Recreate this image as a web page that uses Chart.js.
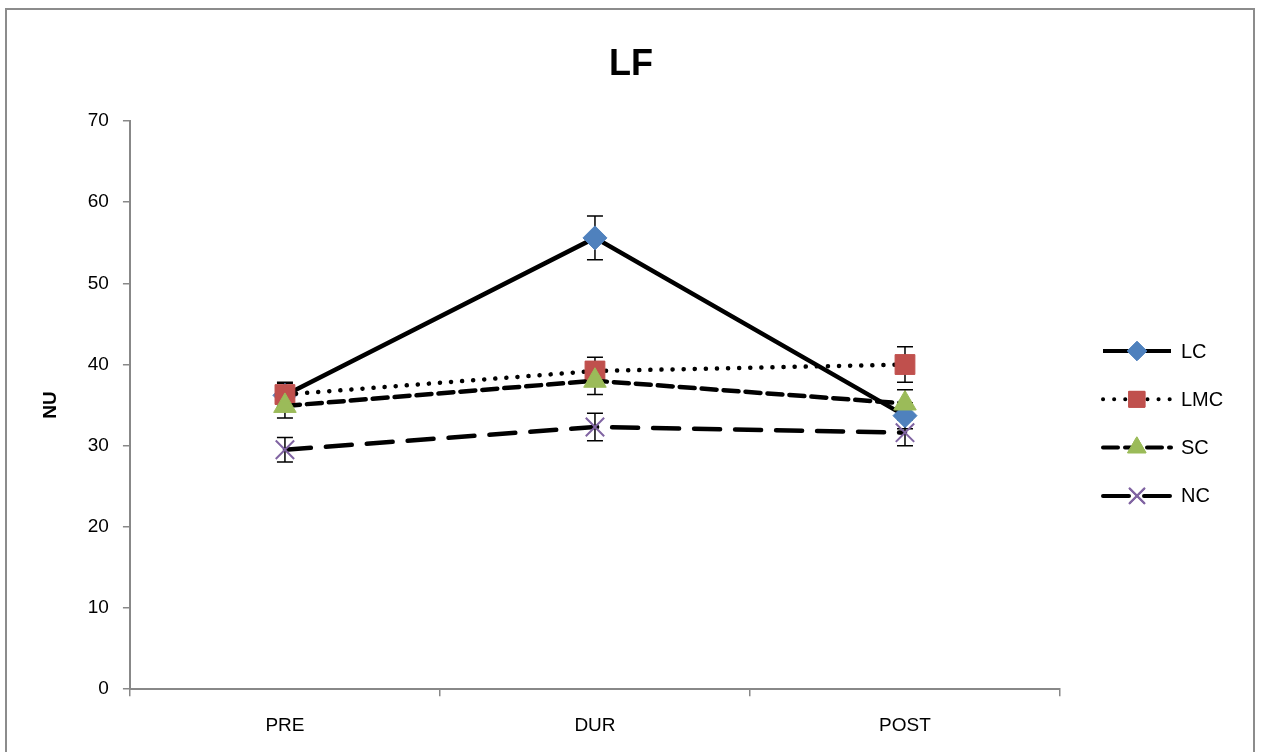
<!DOCTYPE html>
<html>
<head>
<meta charset="utf-8">
<script src="https://cdn.jsdelivr.net/npm/chart.js@4"></script>
<style>
  html, body { margin: 0; padding: 0; background: #fff; overflow: hidden; }
  #wrap { position: relative; width: 1262px; height: 752px; }
  #frame { position: absolute; left: 5px; top: 8px; width: 1246px; height: 760px; border: 2px solid #8c8c8c; }
  #title { position: absolute; left: 0; top: 42px; width: 1262px; text-align: center;
           font: bold 36px 'Liberation Sans', Arial, sans-serif; color: #000; }
  canvas { position: absolute; left: 0; top: 0; }
</style>
</head>
<body>
<div id="wrap">
  <div id="frame"></div>
  <canvas id="lfChart" width="1262" height="752"></canvas>
  <div id="title">LF</div>
</div>
<script>
const categories = ['PRE', 'DUR', 'POST'];
const seriesNames = ['LC', 'LMC', 'SC', 'NC'];
const lcValues = [36.2, 55.6, 33.7];
const lmcValues = [36.3, 39.2, 40.0];
const scValues = [34.9, 38.0, 35.2];
const ncValues = [29.5, 32.3, 31.6];
const lcErrors = [1.6, 2.7, 1.6];
const lmcErrors = [1.4, 1.7, 2.2];
const scErrors = [1.5, 1.7, 1.7];
const ncErrors = [1.5, 1.7, 1.6];
const yTicks = [0, 10, 20, 30, 40, 50, 60, 70];

const fontFamily = "'Liberation Sans', Arial, sans-serif";

// error bars, drawn under the markers
const errorBars = {
    id: 'errorBars',
    beforeDatasetsDraw(chart) {
        const ctx = chart.ctx;
        const y = chart.scales.y;
        ctx.save();
        ctx.strokeStyle = '#000';
        ctx.lineWidth = 1.5;
        chart.data.datasets.forEach((ds, i) => {
            const meta = chart.getDatasetMeta(i);
            meta.data.forEach((pt, j) => {
                const v = ds.data[j], e = ds.errors[j];
                const top = y.getPixelForValue(v + e);
                const bot = y.getPixelForValue(v - e);
                ctx.beginPath();
                ctx.moveTo(pt.x, top); ctx.lineTo(pt.x, bot);
                ctx.moveTo(pt.x - 8, top); ctx.lineTo(pt.x + 8, top);
                ctx.moveTo(pt.x - 8, bot); ctx.lineTo(pt.x + 8, bot);
                ctx.stroke();
            });
        });
        ctx.restore();
    }
};

function drawMarker(ctx, style, r, x, y) {
    Chart.helpers.drawPoint(ctx, { pointStyle: style, radius: r, borderWidth: ctx.lineWidth }, x, y);
    if (style !== 'crossRot') ctx.fill();
    ctx.stroke();
}

// legend like the excel one: line sample with marker in the middle
const lineLegend = {
    id: 'lineLegend',
    afterDraw(chart) {
        const ctx = chart.ctx;
        const area = chart.chartArea;
        const x0 = area.right + 43;
        const startY = 351;
        const step = 48.3;
        ctx.save();
        chart.data.datasets.forEach((ds, i) => {
            const yy = startY + i * step;
            ctx.strokeStyle = '#000';
            ctx.lineWidth = 4;
            ctx.lineCap = ds.borderCapStyle || 'butt';
            ctx.setLineDash(ds.borderDash || []);
            ctx.beginPath();
            ctx.moveTo(x0, yy);
            ctx.lineTo(x0 + 68, yy);
            ctx.stroke();
            ctx.setLineDash([]);
            ctx.fillStyle = ds.pointBackgroundColor;
            ctx.strokeStyle = ds.pointBorderColor;
            ctx.lineWidth = ds.pointBorderWidth;
            drawMarker(ctx, ds.pointStyle, ds.pointRadius * 0.8, x0 + 34, yy);
            ctx.fillStyle = '#000';
            ctx.font = '20px ' + fontFamily;
            ctx.textBaseline = 'middle';
            ctx.textAlign = 'left';
            ctx.fillText(ds.label, x0 + 78, yy + 1);
        });
        ctx.restore();
    }
};

function makeSet(label, data, errors, dash, cap, style, radius, color, order) {
    return {
        label: label,
        data: data,
        errors: errors,
        borderColor: '#000',
        borderWidth: 4.5,
        borderDash: dash,
        borderCapStyle: cap,
        pointStyle: style,
        pointRadius: radius,
        pointHoverRadius: radius,
        pointBackgroundColor: color,
        pointBorderColor: color,
        pointBorderWidth: style === 'crossRot' ? 2 : 1,
        tension: 0,
        order: order
    };
}

const ctx = document.getElementById('lfChart');
new Chart(ctx, {
    type: 'line',
    data: {
        labels: categories,
        datasets: [
            makeSet(seriesNames[0], lcValues, lcErrors, [], 'butt', 'rectRot', 12, '#4f81bd', 4),
            makeSet(seriesNames[1], lmcValues, lmcErrors, [0.1, 11], 'round', 'rect', 14, '#c0504d', 3),
            makeSet(seriesNames[2], scValues, scErrors, [15, 7], 'round', 'triangle', 13, '#9bbb59', 2),
            makeSet(seriesNames[3], ncValues, ncErrors, [26, 15], 'round', 'crossRot', 13, '#8064a2', 1)
        ]
    },
    options: {
        responsive: false,
        animation: false,
        events: [],
        layout: { padding: { top: 121, left: 35, right: 202, bottom: -3 } },
        plugins: {
            legend: { display: false },
            tooltip: { enabled: false },
            title: { display: false }
        },
        scales: {
            x: {
                offset: true,
                grid: { display: true, offset: true, drawOnChartArea: false, drawTicks: true, tickLength: 7, color: '#888', lineWidth: 1.5 },
                border: { color: '#888', width: 2 },
                ticks: { color: '#000', font: { family: fontFamily, size: 19 }, padding: 18 }
            },
            y: {
                min: 0,
                max: 70,
                afterBuildTicks(axis) { axis.ticks = yTicks.map(v => ({ value: v })); },
                title: { display: true, text: 'NU', color: '#000', font: { family: fontFamily, size: 19, weight: 'bold' }, padding: { bottom: 12 } },
                grid: { display: true, drawOnChartArea: false, drawTicks: true, tickLength: 7, color: '#888', lineWidth: 1.5 },
                border: { color: '#888', width: 2 },
                ticks: { color: '#000', font: { family: fontFamily, size: 19 }, padding: 14 }
            }
        }
    },
    plugins: [errorBars, lineLegend]
});
</script>
</body>
</html>
